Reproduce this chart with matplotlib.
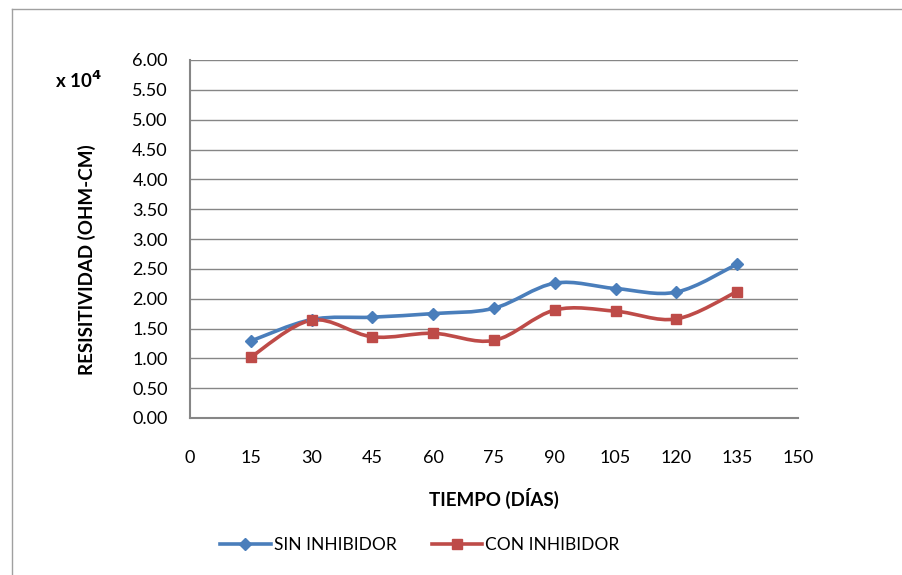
import matplotlib
matplotlib.use('Agg')
import matplotlib.pyplot as plt
from matplotlib.path import Path
from matplotlib.patches import PathPatch
from matplotlib.lines import Line2D

# ─── Data ────────────────────────────────────────────────────────────────────
dias = [15, 30, 45, 60, 75, 90, 105, 120, 135]
sin_inhibidor = [1.29, 1.65, 1.69, 1.75, 1.84, 2.26, 2.17, 2.11, 2.58]
con_inhibidor = [1.02, 1.64, 1.36, 1.42, 1.30, 1.81, 1.79, 1.66, 2.12]
xticks = [0, 15, 30, 45, 60, 75, 90, 105, 120, 135, 150]
yticks = [0.0, 0.5, 1.0, 1.5, 2.0, 2.5, 3.0, 3.5, 4.0, 4.5, 5.0, 5.5, 6.0]

BLUE = "#4a7ebb"
RED = "#be4b48"
GRID = "#868686"

plt.rcParams["font.family"] = ["Lato", "DejaVu Sans"]


def smooth_path(xs, ys):
    """Excel-style smoothed line as cubic Bezier segments (data coords)."""
    pts = list(zip(xs, ys))
    verts = [pts[0]]
    codes = [Path.MOVETO]
    n = len(pts)
    for i in range(n - 1):
        p0 = pts[i - 1] if i > 0 else pts[i]
        p1 = pts[i]
        p2 = pts[i + 1]
        p3 = pts[i + 2] if i + 2 < n else pts[i + 1]
        c1 = (p1[0] + (p2[0] - p0[0]) / 6, p1[1] + (p2[1] - p0[1]) / 6)
        c2 = (p2[0] - (p3[0] - p1[0]) / 6, p2[1] - (p3[1] - p1[1]) / 6)
        verts += [c1, c2, p2]
        codes += [Path.CURVE4] * 3
    return Path(verts, codes)


fig = plt.figure(figsize=(9.02, 5.75), dpi=100)
ax = fig.add_axes([190 / 902, 1 - 418 / 575, 608 / 902, 358 / 575])

for ys, color, marker, ms in [(sin_inhibidor, BLUE, "D", 6.5),
                              (con_inhibidor, RED, "s", 7.5)]:
    ax.add_patch(PathPatch(smooth_path(dias, ys), facecolor="none",
                           edgecolor=color, lw=2.6, zorder=3))
    ax.plot(dias, ys, linestyle="none", marker=marker, ms=ms,
            color=color, zorder=4)

ax.set_xlim(0, 150)
ax.set_ylim(0, 6)
ax.set_xticks(xticks)
ax.set_yticks(yticks)
ax.set_yticklabels([f"{v:.2f}" for v in yticks])
ax.tick_params(length=0, labelsize=13, colors="black")
ax.tick_params(axis="x", pad=23)
ax.tick_params(axis="y", pad=16)
ax.yaxis.grid(True, color=GRID, lw=1)
ax.set_axisbelow(True)
for s in ["top", "right"]:
    ax.spines[s].set_visible(False)
for s in ["left", "bottom"]:
    ax.spines[s].set_color(GRID)
    ax.spines[s].set_linewidth(1.5)

ax.set_xlabel("TIEMPO (DÍAS)", fontsize=13.5, fontweight="bold")
ax.xaxis.set_label_coords(0.5, -0.195)
ax.set_ylabel("RESISITIVIDAD (OHM-CM)", fontsize=13.5, fontweight="bold",
              va="center")
ax.yaxis.set_label_coords(-0.169, 0.441)
fig.text(55 / 902, 1 - 88 / 575, r"x 10$^{\mathbf{4}}$", fontsize=13.5,
         fontweight="bold", va="baseline", ha="left")

handles = [
    Line2D([], [], color=BLUE, lw=2.6, marker="D", ms=6.5),
    Line2D([], [], color=RED, lw=2.6, marker="s", ms=7.5),
]
fig.legend(handles, ["SIN INHIBIDOR", "CON INHIBIDOR"], loc="center",
           bbox_to_anchor=(420 / 902, 1 - 545 / 575), ncol=2, frameon=False,
           fontsize=12.5, handlelength=2.9, columnspacing=2.0,
           handletextpad=0.2)

# chart area border
fig.add_artist(Line2D([12 / 902, 12 / 902], [0, 1 - 9 / 575], color="#a0a0a0",
                      lw=1, transform=fig.transFigure))
fig.add_artist(Line2D([12 / 902, 1], [1 - 9 / 575, 1 - 9 / 575],
                      color="#a0a0a0", lw=1, transform=fig.transFigure))

fig.savefig("out.png", dpi=100)
